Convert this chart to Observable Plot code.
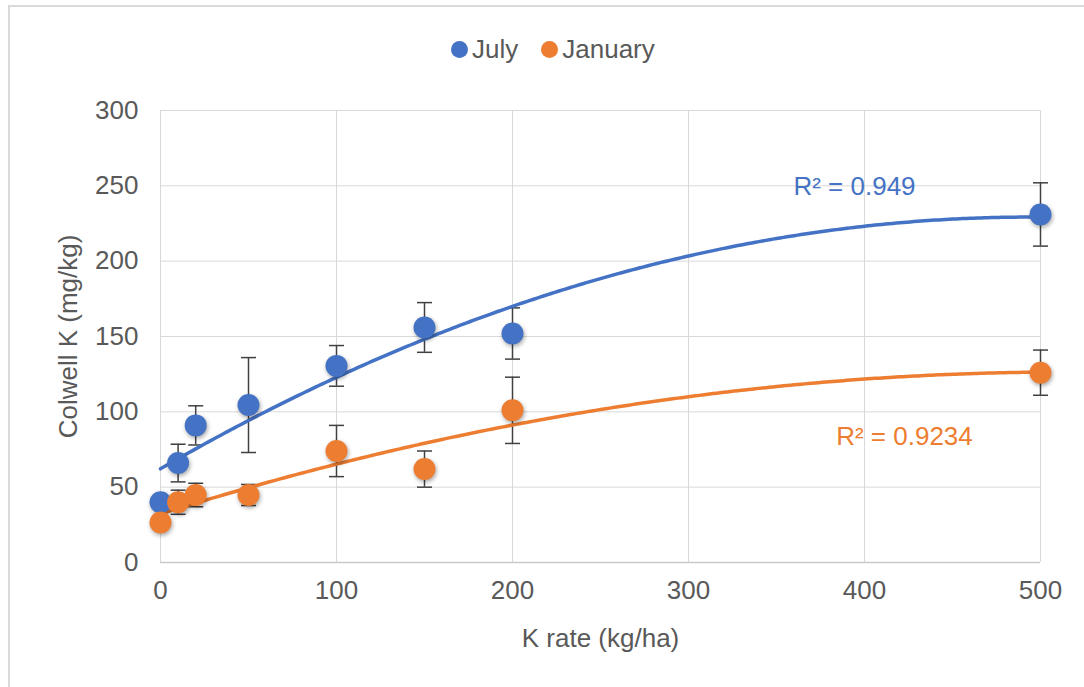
<!DOCTYPE html>
<html>
<head>
<meta charset="utf-8">
<script src="https://cdn.jsdelivr.net/npm/d3@7"></script>
<script src="https://cdn.jsdelivr.net/npm/@observablehq/plot@0.6"></script>
<style>
  html, body { margin: 0; padding: 0; background: #fff; }
  body { font-family: "Liberation Sans", Arial, sans-serif; }
  #wrap { position: relative; width: 1084px; height: 687px; overflow: hidden; background: #fff; }
  #frame { position: absolute; left: 8px; top: 5px; width: 1200px; height: 800px; border-top: 2px solid #d9d9d9; border-left: 2px solid #d9d9d9; }
  #legend { position: absolute; top: 34px; left: 451px; display: flex; align-items: center; font-size: 26px; color: #595959; white-space: nowrap; }
  #legend .item { display: flex; align-items: center; margin-right: 23px; }
  #legend .sw { width: 17px; height: 17px; border-radius: 50%; margin-right: 4px; }
  #chart { position: absolute; left: 0; top: 80px; }
</style>
</head>
<body>
<div id="wrap">
  <div id="frame"></div>
  <div id="legend"></div>
  <div id="chart"></div>
</div>
<script>
// ---- data ----
const seriesNames = ["July", "January"];
const seriesColors = ["#4472C4", "#ED7D31"];
const kRate = [0, 10, 20, 50, 100, 150, 200, 500];
const julyK = [40, 66, 91, 104.5, 130.5, 156, 152, 231];
const julyErr = [3, 12.5, 13, 31.5, 13.5, 16.5, 17, 21];
const janK = [26.5, 40, 44.8, 44.8, 74, 62, 101, 126];
const janErr = [4, 8, 7.8, 7, 17, 12, 22, 15];
const r2Labels = ["R² = 0.949", "R² = 0.9234"];
const xTicks = [0, 100, 200, 300, 400, 500];
const yTicks = [0, 50, 100, 150, 200, 250, 300];

// ---- build rows ----
const seriesValues = [julyK, janK];
const seriesErrs = [julyErr, janErr];
const rows = [];
seriesNames.forEach((s, si) => {
  kRate.forEach((k, i) => rows.push({series: s, k, v: seriesValues[si][i], e: seriesErrs[si][i]}));
});

// polynomial (order 2) least-squares trendline, as in the source chart
function quadFit(xs, ys) {
  const S = k => d3.sum(xs, x => Math.pow(x, k));
  const T = k => d3.sum(xs, (x, i) => Math.pow(x, k) * ys[i]);
  const A = [[S(0), S(1), S(2)], [S(1), S(2), S(3)], [S(2), S(3), S(4)]];
  const B = [T(0), T(1), T(2)];
  const det = m => m[0][0]*(m[1][1]*m[2][2]-m[1][2]*m[2][1]) - m[0][1]*(m[1][0]*m[2][2]-m[1][2]*m[2][0]) + m[0][2]*(m[1][0]*m[2][1]-m[1][1]*m[2][0]);
  const D = det(A);
  const coef = [0, 1, 2].map(c => det(A.map((r, i) => r.map((v, j) => j === c ? B[i] : v))) / D);
  return x => coef[0] + coef[1] * x + coef[2] * x * x;
}
const trend = [];
seriesNames.forEach((s, si) => {
  const f = quadFit(kRate, seriesValues[si]);
  d3.range(0, 501, 2).forEach(x => trend.push({series: s, x, y: f(x)}));
});

const labelRows = seriesNames.map((s, si) => ({
  series: s, text: r2Labels[si], k: kRate[kRate.length - 1], v: seriesValues[si][kRate.length - 1]
}));

// cap symbol for error bars
const capSymbol = {
  draw(ctx, size) { const r = Math.sqrt(size / Math.PI); ctx.moveTo(-r, 0); ctx.lineTo(r, 0); }
};

const errColor = "#404040";

const plot = Plot.plot({
  width: 1084,
  height: 607,
  marginTop: 30,
  marginBottom: 125,
  marginLeft: 160,
  marginRight: 44,
  style: {fontFamily: '"Liberation Sans", Arial, sans-serif', fontSize: "26px", color: "#595959", background: "transparent", overflow: "visible"},
  x: {domain: [0, 500], label: "K rate (kg/ha)"},
  y: {domain: [0, 300], label: "Colwell K (mg/kg)"},
  color: {domain: seriesNames, range: seriesColors},
  marks: [
    Plot.gridX(xTicks, {stroke: "#d9d9d9", strokeOpacity: 1, strokeWidth: 1}),
    Plot.gridY(yTicks.slice(1), {stroke: "#d9d9d9", strokeOpacity: 1, strokeWidth: 1}),
    Plot.ruleY([0], {stroke: "#c9c9c9", strokeWidth: 1.5}),
    Plot.axisX(xTicks, {tickSize: 0, tickPadding: 18, fill: "#595959", label: "K rate (kg/ha)", labelAnchor: "center", labelOffset: 84, labelArrow: "none"}),
    Plot.axisY(yTicks, {tickSize: 0, tickPadding: 22, fill: "#595959", label: "Colwell K (mg/kg)", labelAnchor: "center", labelOffset: 102, labelArrow: "none"}),
    Plot.ruleX(rows, {x: "k", y1: d => d.v - d.e, y2: d => d.v + d.e, stroke: errColor, strokeWidth: 1.5}),
    Plot.dot(rows, {x: "k", y: d => d.v + d.e, symbol: capSymbol, r: 7.5, fill: "none", stroke: errColor, strokeWidth: 1.5}),
    Plot.dot(rows, {x: "k", y: d => d.v - d.e, symbol: capSymbol, r: 7.5, fill: "none", stroke: errColor, strokeWidth: 1.5}),
    Plot.line(trend, {x: "x", y: "y", z: "series", stroke: "series", strokeWidth: 3.5, curve: "linear"}),
    Plot.dot(rows, {x: "k", y: "v", fill: "series", r: 11}),
    Plot.text(labelRows.slice(0, 1), {x: "k", y: "v", text: "text", fill: seriesColors[0], dx: -186, dy: -28, fontSize: 26}),
    Plot.text(labelRows.slice(1), {x: "k", y: "v", text: "text", fill: seriesColors[1], dx: -136, dy: 64, fontSize: 26})
  ]
});
document.getElementById("chart").appendChild(plot);

// soft shadow on markers
const dotGroups = plot.querySelectorAll('g[aria-label="dot"]');
if (dotGroups.length) dotGroups[dotGroups.length - 1].style.filter = "drop-shadow(1px 2px 2px rgba(0,0,0,0.35))";

// legend
const legend = document.getElementById("legend");
seriesNames.forEach((s, i) => {
  const item = document.createElement("div");
  item.className = "item";
  const sw = document.createElement("span");
  sw.className = "sw";
  sw.style.background = seriesColors[i];
  const t = document.createElement("span");
  t.textContent = s;
  item.appendChild(sw); item.appendChild(t);
  legend.appendChild(item);
});
</script>
</body>
</html>
